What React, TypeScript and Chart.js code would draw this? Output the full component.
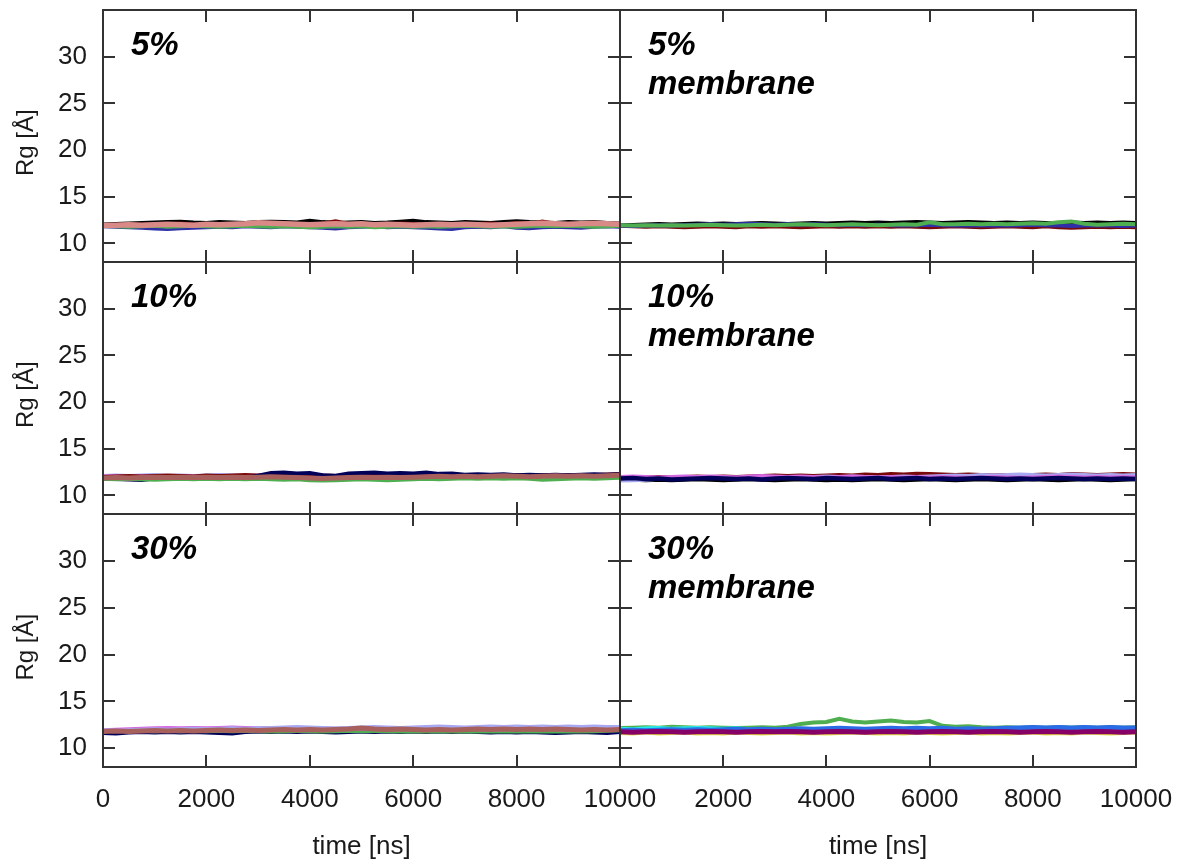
import React, { useEffect, useRef } from 'react';
import { Chart, registerables } from 'chart.js';

Chart.register(...registerables);

// ---- axes -----------------------------------------------------------------
const TIME = [
  0, 250, 500, 750, 1000, 1250, 1500, 1750, 2000, 2250, 2500, 2750, 3000, 3250,
  3500, 3750, 4000, 4250, 4500, 4750, 5000, 5250, 5500, 5750, 6000, 6250, 6500,
  6750, 7000, 7250, 7500, 7750, 8000, 8250, 8500, 8750, 9000, 9250, 9500, 9750,
  10000,
];
const Y_TICKS = [10, 15, 20, 25, 30];
const X_TICKS_LEFT = [0, 2000, 4000, 6000, 8000, 10000];
const X_TICKS_RIGHT = [2000, 4000, 6000, 8000, 10000];
const X_MARKS = [0, 2000, 4000, 6000, 8000, 10000];
const Y_MIN = 8;
const Y_MAX = 35;

// ---- 5% -------------------------------------------------------------------
const P5_BLACK = [12.05,12.10,12.15,12.20,12.25,12.30,12.35,12.25,12.20,12.30,12.25,12.20,12.30,12.35,12.30,12.25,12.45,12.30,12.20,12.25,12.30,12.20,12.25,12.35,12.45,12.30,12.25,12.20,12.30,12.25,12.20,12.30,12.40,12.30,12.25,12.20,12.30,12.25,12.30,12.20,12.15];
const P5_DARKRED = [11.95,12.00,12.05,12.00,12.10,12.05,12.15,12.05,12.00,12.10,12.05,12.15,12.10,12.05,12.20,12.10,12.05,12.15,12.40,12.10,12.05,12.10,12.00,12.15,12.10,12.05,12.10,12.00,12.05,12.10,12.15,12.05,12.20,12.10,12.35,12.10,12.05,12.10,12.20,12.10,12.05];
const P5_BLUE = [11.80,11.75,11.70,11.65,11.55,11.50,11.60,11.65,11.70,11.75,11.70,11.80,11.75,11.70,11.80,11.75,11.70,11.65,11.55,11.70,11.75,11.80,11.70,11.75,11.70,11.65,11.55,11.50,11.70,11.75,11.70,11.80,11.65,11.60,11.70,11.75,11.70,11.65,11.75,11.80,11.75];
const P5_GREEN = [11.85,11.80,11.75,11.80,11.85,11.75,11.80,11.85,11.80,11.75,11.80,11.85,11.80,11.75,11.80,11.75,11.70,11.75,11.80,11.75,11.80,11.70,11.75,11.80,11.75,11.80,11.75,11.80,11.85,11.80,11.75,11.80,11.75,11.80,11.85,11.80,11.85,11.80,11.75,11.80,11.85];
const P5_SALMON = [11.90,11.95,12.00,11.95,12.00,12.05,12.00,11.95,12.05,12.00,12.05,12.10,12.20,12.15,12.10,12.05,12.00,12.05,12.10,12.05,12.10,12.00,12.05,12.00,11.95,12.00,12.05,12.00,12.05,12.00,11.95,12.00,12.05,12.10,12.15,12.10,12.05,12.10,12.15,12.10,12.05];

// ---- 5% membrane ----------------------------------------------------------
const P5M_BLACK = [11.95,12.00,12.05,12.10,12.05,12.10,12.15,12.10,12.15,12.10,12.15,12.20,12.15,12.10,12.15,12.20,12.15,12.20,12.25,12.20,12.25,12.20,12.25,12.30,12.25,12.20,12.25,12.30,12.25,12.20,12.25,12.20,12.25,12.20,12.15,12.25,12.20,12.25,12.20,12.25,12.20];
const P5M_DARKRED = [11.85,11.80,11.75,11.80,11.75,11.70,11.75,11.80,11.75,11.70,11.80,11.75,11.80,11.75,11.70,11.75,11.80,11.75,11.80,11.75,11.80,11.75,11.80,11.75,11.70,11.75,11.80,11.75,11.70,11.75,11.80,11.75,11.70,11.80,11.70,11.65,11.70,11.75,11.70,11.75,11.70];
const P5M_BLUE = [11.90,11.85,11.90,11.95,11.90,11.95,12.00,12.05,12.00,12.05,12.10,12.05,12.00,12.05,12.00,12.05,12.00,11.95,12.00,11.95,12.00,11.95,11.90,11.95,12.00,11.95,11.90,11.95,11.90,11.95,11.90,11.95,12.00,11.95,11.90,11.85,11.90,11.95,11.90,11.85,11.90];
const P5M_GREEN = [11.95,11.90,11.95,11.90,11.95,11.90,11.95,12.00,11.95,11.90,11.95,12.00,11.95,12.00,12.05,12.00,11.95,12.00,12.05,12.00,11.95,12.00,12.05,12.00,12.25,12.05,12.05,12.10,12.05,12.10,12.05,12.10,12.15,12.10,12.25,12.35,12.10,12.00,12.05,12.10,12.05];

// ---- 10% ------------------------------------------------------------------
const P10_LAVENDER = [12.10,12.15,12.10,12.15,12.20,12.10,12.15,12.10,12.15,12.20,12.15,12.10,12.15,12.20,12.10,12.15,12.10,12.05,12.10,12.05,12.00,12.05,12.00,12.05,12.00,12.05,12.00,11.95,12.00,12.05,12.00,12.05,12.00,11.95,12.00,12.05,12.00,12.05,12.00,12.05,12.00];
const P10_MAGENTA = [12.05,12.10,12.05,12.10,12.05,12.00,12.10,12.05,12.10,12.05,12.00,12.05,12.10,12.05,12.00,12.05,12.00,11.95,12.00,11.90,11.95,12.00,11.95,12.00,11.95,12.00,11.95,12.00,11.95,12.00,12.05,12.00,11.95,12.00,12.05,12.00,11.95,12.00,12.05,12.00,11.95];
const P10_DARKRED = [12.00,12.05,12.10,12.05,12.10,12.15,12.10,12.05,12.15,12.10,12.15,12.20,12.15,12.10,12.15,12.20,12.10,12.15,12.10,12.15,12.20,12.15,12.10,12.15,12.20,12.15,12.10,12.15,12.20,12.15,12.10,12.15,12.20,12.15,12.20,12.15,12.20,12.15,12.20,12.25,12.30];
const P10_NAVY = [11.80,11.75,11.70,11.65,11.80,11.75,11.85,11.80,11.85,11.80,11.75,11.85,12.10,12.40,12.45,12.35,12.40,12.15,12.10,12.35,12.40,12.45,12.35,12.40,12.35,12.45,12.30,12.35,12.20,12.25,12.20,12.25,12.15,12.20,12.15,12.20,12.15,12.20,12.25,12.20,12.25];
const P10_GREEN = [11.75,11.70,11.75,11.70,11.65,11.70,11.75,11.70,11.75,11.70,11.75,11.70,11.75,11.70,11.65,11.70,11.60,11.55,11.60,11.65,11.70,11.65,11.60,11.65,11.70,11.75,11.70,11.75,11.80,11.75,11.80,11.75,11.80,11.75,11.65,11.70,11.75,11.80,11.75,11.80,11.85];
const P10_BROWN = [11.85,11.90,11.85,11.90,11.95,11.90,11.95,11.90,11.95,11.90,11.95,11.90,11.95,12.00,11.95,11.90,11.85,11.80,11.85,11.90,11.95,11.90,11.95,11.90,11.95,12.00,12.05,12.00,12.05,12.00,12.05,12.10,12.05,12.00,12.05,12.10,12.05,12.10,12.05,12.10,12.15];

// ---- 10% membrane ---------------------------------------------------------
const P10M_BLACK = [11.70,11.65,11.60,11.65,11.60,11.65,11.70,11.65,11.60,11.65,11.70,11.65,11.60,11.65,11.70,11.65,11.60,11.65,11.60,11.65,11.70,11.65,11.60,11.65,11.70,11.65,11.60,11.65,11.70,11.65,11.60,11.65,11.70,11.65,11.60,11.65,11.70,11.65,11.60,11.65,11.70];
const P10M_DARKRED = [11.95,11.90,11.95,12.00,11.95,12.00,12.05,12.00,12.05,12.00,12.05,12.10,12.15,12.10,12.15,12.10,12.15,12.20,12.15,12.25,12.20,12.30,12.25,12.35,12.30,12.25,12.20,12.25,12.20,12.15,12.20,12.15,12.20,12.25,12.20,12.30,12.25,12.20,12.25,12.30,12.25];
const P10M_LAVENDER = [11.55,11.60,11.65,11.75,11.85,11.90,11.85,11.90,11.95,11.90,11.95,12.00,11.95,12.00,11.95,12.00,12.05,12.00,12.05,12.00,11.95,12.00,12.05,12.00,12.05,12.10,12.15,12.10,12.20,12.15,12.20,12.25,12.20,12.15,12.20,12.25,12.20,12.15,12.20,12.15,12.20];
const P10M_MAGENTA = [12.00,12.05,12.00,11.95,12.00,12.05,12.00,12.05,12.00,11.95,12.05,12.10,12.05,12.00,12.05,12.00,11.95,12.00,12.05,12.00,11.95,12.00,11.95,12.00,11.95,12.00,11.95,11.90,11.95,12.00,11.95,11.90,11.95,12.00,12.05,12.00,11.95,12.00,11.95,12.00,11.95];
const P10M_NAVY = [11.80,11.85,11.75,11.80,11.70,11.75,11.80,11.85,11.80,11.75,11.80,11.70,11.80,11.85,11.80,11.75,11.85,11.80,11.75,11.80,11.85,11.75,11.80,11.85,11.75,11.80,11.75,11.80,11.85,11.80,11.75,11.80,11.75,11.80,11.85,11.80,11.75,11.80,11.75,11.80,11.75];

// ---- 30% ------------------------------------------------------------------
const P30_NAVY = [11.60,11.55,11.65,11.70,11.65,11.70,11.65,11.70,11.65,11.60,11.55,11.70,11.75,11.70,11.75,11.70,11.75,11.70,11.65,11.70,11.75,11.70,11.75,11.70,11.75,11.70,11.75,11.70,11.75,11.70,11.65,11.70,11.65,11.70,11.65,11.60,11.65,11.70,11.65,11.60,11.70];
const P30_GREEN = [11.90,11.85,11.80,11.85,11.80,11.85,11.80,11.85,11.80,11.85,11.80,11.85,11.80,11.75,11.80,11.85,11.80,11.75,11.80,11.85,11.80,11.85,11.80,11.75,11.80,11.75,11.80,11.75,11.80,11.75,11.80,11.75,11.80,11.75,11.80,11.75,11.80,11.75,11.80,11.85,11.90];
const P30_MAGENTA = [11.95,12.00,12.05,12.10,12.15,12.20,12.15,12.20,12.15,12.20,12.25,12.20,12.15,12.20,12.15,12.10,12.05,12.00,12.05,12.00,12.05,12.00,12.05,12.00,12.05,12.00,11.95,12.00,12.05,12.00,11.95,12.00,12.05,12.00,12.05,12.00,11.95,12.00,12.05,12.00,12.05];
const P30_LAVENDER = [11.95,11.90,11.95,12.00,12.05,12.00,12.05,12.10,12.05,12.10,12.15,12.10,12.15,12.20,12.25,12.30,12.25,12.20,12.15,12.20,12.25,12.30,12.25,12.20,12.25,12.30,12.35,12.30,12.25,12.30,12.35,12.30,12.35,12.30,12.35,12.30,12.35,12.30,12.35,12.30,12.30];
const P30_BROWN = [11.80,11.85,11.80,11.85,11.90,11.85,11.90,11.85,11.90,11.95,11.90,11.95,11.90,11.95,12.00,11.95,12.00,11.95,12.00,12.05,12.15,12.05,12.00,12.05,12.00,11.95,12.00,11.95,12.00,12.05,12.00,12.05,12.00,12.05,12.00,12.05,12.00,11.95,12.00,11.95,12.00];

// ---- 30% membrane ---------------------------------------------------------
const P30M_YELLOW = [11.55,11.50,11.60,11.50,11.55,11.60,11.50,11.55,11.50,11.60,11.55,11.50,11.55,11.60,11.50,11.55,11.50,11.55,11.60,11.55,11.50,11.55,11.50,11.60,11.55,11.50,11.55,11.60,11.50,11.55,11.50,11.55,11.60,11.50,11.55,11.50,11.60,11.55,11.50,11.55,11.60];
const P30M_GREEN = [12.15,12.20,12.25,12.20,12.30,12.25,12.20,12.25,12.20,12.15,12.20,12.25,12.20,12.30,12.60,12.75,12.80,13.15,12.85,12.75,12.85,12.95,12.80,12.75,12.90,12.40,12.30,12.35,12.25,12.20,12.25,12.20,12.25,12.20,12.25,12.20,12.25,12.20,12.25,12.20,12.25];
const P30M_CYAN = [12.10,12.05,12.15,12.20,12.10,12.15,12.20,12.15,12.10,12.15,12.05,12.00,11.95,11.90,11.95,11.90,11.95,11.90,11.95,11.90,11.95,11.90,11.95,11.90,11.95,11.90,11.95,11.90,11.95,11.90,11.95,11.90,11.95,11.90,11.95,11.90,11.95,11.90,11.95,11.90,11.95];
const P30M_AZURE = [11.90,11.95,11.90,11.95,12.00,11.95,12.00,11.95,12.00,12.05,12.00,12.05,12.00,12.05,12.10,12.05,12.10,12.15,12.10,12.05,12.10,12.15,12.10,12.15,12.10,12.15,12.05,12.10,12.05,12.10,12.15,12.20,12.25,12.20,12.25,12.20,12.25,12.20,12.25,12.20,12.20];
const P30M_PURPLE = [11.75,11.70,11.75,11.80,11.75,11.70,11.75,11.80,11.75,11.70,11.75,11.80,11.75,11.80,11.75,11.70,11.75,11.80,11.75,11.70,11.75,11.80,11.75,11.70,11.75,11.80,11.75,11.70,11.75,11.80,11.75,11.70,11.75,11.80,11.75,11.70,11.75,11.80,11.75,11.70,11.75];

// ---- colours ----------------------------------------------------------------
const C = {
  black: '#000000',
  darkred: '#7a0a0a',
  blue: '#2f2fa8',
  green: '#4fae4f',
  salmon: '#d98a86',
  lavender: '#a8a8f0',
  magenta: '#d468e0',
  navy: '#000058',
  brown: '#a8605c',
  cyan: '#28e8e8',
  azure: '#2a6be6',
  purple: '#860068',
  yellow: '#e4e040',
  frame: '#333333',
  text: '#1a1a1a',
};

type Series = { values: number[]; color: string; width: number };
type PanelSpec = {
  label: string[];
  col: number;
  row: number;
  series: Series[];
};

// Series are listed bottom-most first; the last one is painted on top.
const s = (values: number[], color: string, width = 3.5): Series => ({ values, color, width });

const PANELS: PanelSpec[] = [
  {
    label: ['5%'], col: 0, row: 0,
    series: [s(P5_BLACK, C.black), s(P5_DARKRED, C.darkred), s(P5_BLUE, C.blue), s(P5_GREEN, C.green), s(P5_SALMON, C.salmon, 5.5)],
  },
  {
    label: ['5%', 'membrane'], col: 1, row: 0,
    series: [s(P5M_BLACK, C.black), s(P5M_DARKRED, C.darkred), s(P5M_BLUE, C.blue, 4), s(P5M_GREEN, C.green, 4)],
  },
  {
    label: ['10%'], col: 0, row: 1,
    series: [s(P10_LAVENDER, C.lavender), s(P10_MAGENTA, C.magenta), s(P10_DARKRED, C.darkred), s(P10_NAVY, C.navy, 4), s(P10_GREEN, C.green), s(P10_BROWN, C.brown, 5)],
  },
  {
    label: ['10%', 'membrane'], col: 1, row: 1,
    series: [s(P10M_BLACK, C.black), s(P10M_DARKRED, C.darkred), s(P10M_LAVENDER, C.lavender), s(P10M_MAGENTA, C.magenta), s(P10M_NAVY, C.navy, 4.5)],
  },
  {
    label: ['30%'], col: 0, row: 2,
    series: [s(P30_NAVY, C.navy), s(P30_GREEN, C.green), s(P30_MAGENTA, C.magenta), s(P30_LAVENDER, C.lavender), s(P30_BROWN, C.brown, 5)],
  },
  {
    label: ['30%', 'membrane'], col: 1, row: 2,
    series: [s(P30M_YELLOW, C.yellow, 2.5), s(P30M_GREEN, C.green, 4), s(P30M_CYAN, C.cyan), s(P30M_AZURE, C.azure, 4.5), s(P30M_PURPLE, C.purple, 5)],
  },
];

// ---- page geometry ----------------------------------------------------------
const W = 1179;
const H = 866;
const COL_EDGES = [103, 620, 1136];
const ROW_EDGES = [10, 262, 514, 767];
const FONT = "'Liberation Sans', Arial, sans-serif";

// Frame and inward tick marks on all four sides of the plot box.
const framePlugin = {
  id: 'panelFrame',
  afterDraw(chart: any) {
    const { ctx, chartArea: a, scales } = chart;
    const x = scales.x;
    const y = scales.y;
    const len = 12;
    ctx.save();
    ctx.strokeStyle = C.frame;
    ctx.lineWidth = 2;
    ctx.beginPath();
    for (const v of Y_TICKS) {
      const py = Math.round(y.getPixelForValue(v));
      ctx.moveTo(a.left, py);
      ctx.lineTo(a.left + len, py);
      ctx.moveTo(a.right, py);
      ctx.lineTo(a.right - len, py);
    }
    for (const v of X_MARKS) {
      const px = Math.round(x.getPixelForValue(v));
      ctx.moveTo(px, a.bottom);
      ctx.lineTo(px, a.bottom - len);
      ctx.moveTo(px, a.top);
      ctx.lineTo(px, a.top + len);
    }
    ctx.stroke();
    ctx.strokeRect(a.left, a.top, a.right - a.left, a.bottom - a.top);
    ctx.restore();
  },
};

// Bold italic caption in the upper-left corner of each panel.
const captionPlugin = {
  id: 'panelCaption',
  afterDraw(chart: any, _args: any, opts: any) {
    const lines: string[] = opts.lines || [];
    const { ctx, chartArea: a } = chart;
    ctx.save();
    ctx.fillStyle = '#000';
    ctx.font = `italic bold 33px ${FONT}`;
    ctx.textBaseline = 'alphabetic';
    ctx.textAlign = 'left';
    lines.forEach((t, i) => ctx.fillText(t, a.left + 28, a.top + 45 + i * 39));
    ctx.restore();
  },
};

function Panel({ spec }: { spec: PanelSpec }) {
  const ref = useRef<HTMLCanvasElement | null>(null);

  useEffect(() => {
    const canvas = ref.current;
    if (!canvas) return;
    const isLeft = spec.col === 0;
    const isBottom = spec.row === 2;
    const left = COL_EDGES[spec.col];
    const right = COL_EDGES[spec.col + 1];
    const top = ROW_EDGES[spec.row];
    const bottom = ROW_EDGES[spec.row + 1];
    const xTicks = isLeft ? X_TICKS_LEFT : X_TICKS_RIGHT;
    const n = spec.series.length;

    const chart = new Chart(canvas, {
      type: 'line',
      data: {
        datasets: spec.series.map((sr, i) => ({
          data: TIME.map((t, k) => ({ x: t, y: sr.values[k] })),
          borderColor: sr.color,
          backgroundColor: sr.color,
          borderWidth: sr.width,
          borderJoinStyle: 'miter',
          pointRadius: 0,
          tension: 0,
          fill: false,
          order: n - i,
        })),
      },
      options: {
        responsive: false,
        animation: false,
        events: [],
        devicePixelRatio: 1,
        layout: {
          padding: {
            left: isLeft ? 0 : left,
            right: W - right,
            top,
            bottom: isBottom ? 0 : H - bottom,
          },
        },
        plugins: {
          legend: { display: false },
          tooltip: { enabled: false },
          panelCaption: { lines: spec.label },
        } as any,
        scales: {
          x: {
            type: 'linear',
            min: 0,
            max: 10000,
            display: isBottom,
            grid: { display: false, drawTicks: false },
            border: { display: false },
            afterBuildTicks: (sc: any) => {
              sc.ticks = xTicks.map((v) => ({ value: v }));
            },
            afterFit: (sc: any) => {
              sc.paddingLeft = 0;
              sc.paddingRight = 0;
              sc.height = isBottom ? H - ROW_EDGES[3] : 0;
            },
            ticks: {
              autoSkip: false,
              maxRotation: 0,
              padding: 17,
              color: C.text,
              font: { family: FONT, size: 26 },
              callback: (v: any) => String(v),
            },
            title: {
              display: true,
              text: 'time [ns]',
              color: C.text,
              font: { family: FONT, size: 26 },
              padding: { top: 0, bottom: 4 },
            },
          },
          y: {
            type: 'linear',
            min: Y_MIN,
            max: Y_MAX,
            display: isLeft,
            grid: { display: false, drawTicks: false },
            border: { display: false },
            afterBuildTicks: (sc: any) => {
              sc.ticks = Y_TICKS.map((v) => ({ value: v }));
            },
            afterFit: (sc: any) => {
              sc.paddingTop = 0;
              sc.paddingBottom = 0;
              sc.width = isLeft ? COL_EDGES[0] : 0;
            },
            ticks: {
              autoSkip: false,
              padding: 16,
              color: C.text,
              font: { family: FONT, size: 26 },
              callback: (v: any) => String(v),
            },
            title: {
              display: true,
              text: 'Rg [Å]  ',
              color: C.text,
              font: { family: FONT, size: 24 },
              padding: { top: 12, bottom: 0 },
            },
          },
        },
      },
      plugins: [framePlugin, captionPlugin],
    } as any);

    return () => chart.destroy();
  }, [spec]);

  return (
    <canvas
      ref={ref}
      width={W}
      height={H}
      style={{ position: 'absolute', left: 0, top: 0, width: W, height: H }}
    />
  );
}

export default function App() {
  return (
    <div
      style={{
        position: 'absolute',
        left: 0,
        top: 0,
        width: W,
        height: H,
        background: '#ffffff',
        overflow: 'hidden',
      }}
    >
      {PANELS.map((p, i) => (
        <Panel key={i} spec={p} />
      ))}
    </div>
  );
}
